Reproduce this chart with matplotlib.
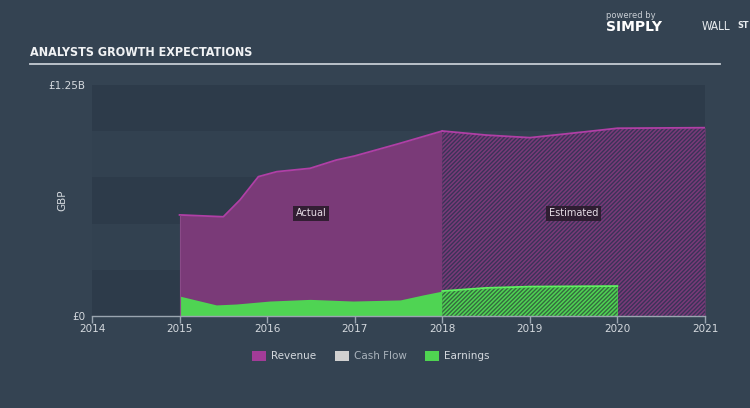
import matplotlib
matplotlib.use("Agg")
import matplotlib.pyplot as plt
from matplotlib.lines import Line2D
from matplotlib.patches import Patch
import numpy as np

# ---- data (GBP billions) ----
rev_actual_x = [2015.0, 2015.5, 2015.69, 2015.9, 2016.11, 2016.49, 2016.79, 2017.0, 2017.5, 2018.0]
rev_actual_y = [0.547, 0.537, 0.628, 0.754, 0.781, 0.799, 0.844, 0.866, 0.932, 1.001]
rev_est_x = [2018.0, 2018.5, 2019.0, 2019.5, 2020.0, 2021.0]
rev_est_y = [1.001, 0.979, 0.965, 0.990, 1.016, 1.019]

earn_actual_x = [2015.0, 2015.42, 2015.65, 2016.03, 2016.49, 2016.98, 2017.52, 2017.78, 2018.0]
earn_actual_y = [0.108, 0.060, 0.065, 0.081, 0.090, 0.081, 0.087, 0.114, 0.135]
earn_est_x = [2018.0, 2018.5, 2019.0, 2020.0]
earn_est_y = [0.135, 0.152, 0.159, 0.162]

x_ticks = [2014, 2015, 2016, 2017, 2018, 2019, 2020, 2021]
y_tick_labels = ["£0", "£1.25B"]
legend_labels = ["Revenue", "Cash Flow", "Earnings"]

BG = "#344352"
BAND_DARK = "#2d3b4a"
BAND_LIGHT = "#324150"
TXT = "#d4d9de"
REV_FILL = "#7a3a78"
REV_LINE = "#b03fa6"
EARN_FILL = "#4fd453"
EARN_LINE = "#5ff060"

plt.rcParams['font.family'] = ['DejaVu Sans']
plt.rcParams['hatch.linewidth'] = 1.0
fig = plt.figure(figsize=(7.5, 4.08), dpi=100, facecolor=BG)
W, H = 750, 408
x0, x1 = 92, 705
ytop, ybot = 85, 316
ax = fig.add_axes([x0 / W, 1 - ybot / H, (x1 - x0) / W, (ybot - ytop) / H])
ax.set_facecolor(BG)
ax.set_xlim(2014, 2021)
ax.set_ylim(0, 1.25)

# background bands
for i in range(5):
    ax.axhspan(i * 0.25, (i + 1) * 0.25, color=BAND_DARK if i % 2 == 0 else BAND_LIGHT, lw=0, zorder=0)

HATCH = "/" * 8

# revenue
ax.fill_between(rev_actual_x, 0, rev_actual_y, color=REV_FILL, lw=0, zorder=2)
ax.fill_between(rev_est_x, 0, rev_est_y, color=REV_FILL, lw=0, zorder=2)
ax.fill_between(rev_est_x, 0, rev_est_y, facecolor="none", edgecolor="#3a3358", hatch=HATCH, lw=0, zorder=3)
ax.plot(rev_actual_x, rev_actual_y, color=REV_LINE, lw=1.3, zorder=5)
ax.plot(rev_est_x, rev_est_y, color=REV_LINE, lw=1.3, zorder=5)
ax.plot([2015, 2015], [0, rev_actual_y[0]], color="#8a4a88", lw=0.8, zorder=5)

# earnings
ax.fill_between(earn_actual_x, 0, earn_actual_y, color=EARN_FILL, lw=0, zorder=4)
ax.fill_between(earn_est_x, 0, earn_est_y, color=EARN_FILL, lw=0, zorder=4)
ax.fill_between(earn_est_x, 0, earn_est_y, facecolor="none", edgecolor="#356a3f", hatch=HATCH, lw=0, zorder=4.5)
ax.plot(earn_est_x, earn_est_y, color=EARN_LINE, lw=1.3, zorder=5)

# labels
bbox = dict(boxstyle="square,pad=0.3", fc="#2a1b2c", ec="none", alpha=0.9)
ax.text(2016.5, 0.555, "Actual", color="#e6dde6", fontsize=7, ha="center", va="center", bbox=bbox, zorder=6)
ax.text(2019.5, 0.555, "Estimated", color="#e6dde6", fontsize=7, ha="center", va="center", bbox=bbox, zorder=6)

# axes styling
for s in ["top", "right", "left"]:
    ax.spines[s].set_visible(False)
ax.spines["bottom"].set_color("#9aa5b0")
ax.spines["bottom"].set_linewidth(1.0)
ax.spines["bottom"].set_zorder(7)
ax.set_xticks(x_ticks)
ax.set_xticklabels([str(t) for t in x_ticks])
ax.tick_params(axis="x", colors="#9aa5b0", labelcolor=TXT, labelsize=7.5, length=5, width=1, pad=1)
ax.set_yticks([0, 1.25])
ax.set_yticklabels(y_tick_labels)
ax.tick_params(axis="y", length=0, labelcolor=TXT, labelsize=7.5, pad=5)
ax.set_ylabel("GBP", color=TXT, fontsize=7.5)
ax.yaxis.set_label_coords((67 - 92) / (x1 - x0), 0.5)

# title
cond = ["DejaVu Sans Condensed", "Liberation Sans Narrow", "DejaVu Sans"]
fig.text(30 / W, 1 - 53 / H, "ANALYSTS GROWTH EXPECTATIONS", color="#f0f2f4", fontsize=9,
         fontweight="bold", fontstretch="condensed", family=cond, va="center", ha="left")
fig.add_artist(Line2D([30 / W, 720 / W], [1 - 63.5 / H, 1 - 63.5 / H], color="#c5ccd3", lw=1.3))

# logo text
fig.text(606 / W, 1 - 15 / H, "powered by", color="#c8ced4", fontsize=6, va="center", ha="left")
fig.text(606 / W, 1 - 27 / H, "SIMPLY", color="#ffffff", fontsize=10, fontweight="bold", va="center", ha="left")
fig.text(702 / W, 1 - 27 / H, "WALL", color="#e8ecef", fontsize=8.5, family=cond, fontstretch="condensed",
         va="center", ha="left")
fig.text(737 / W, 1 - 26 / H, "ST", color="#e8ecef", fontsize=6.5, fontweight="bold", family=cond,
         fontstretch="condensed", va="center", ha="left")

# legend
handles = [Patch(facecolor="#a23c98", edgecolor="none"),
           Patch(facecolor="#d0d0d0", edgecolor="none"),
           Patch(facecolor="#4fd451", edgecolor="none")]
leg = fig.legend(handles, legend_labels, loc="center", bbox_to_anchor=(371 / W, 1 - 356 / H), ncol=3,
                 frameon=False, fontsize=7.5, handlelength=1.3, handleheight=1.1, columnspacing=1.8,
                 handletextpad=0.5)
for t, c in zip(leg.get_texts(), [TXT, "#aab3bc", TXT]):
    t.set_color(c)

fig.savefig("out.png", dpi=100, facecolor=BG)
